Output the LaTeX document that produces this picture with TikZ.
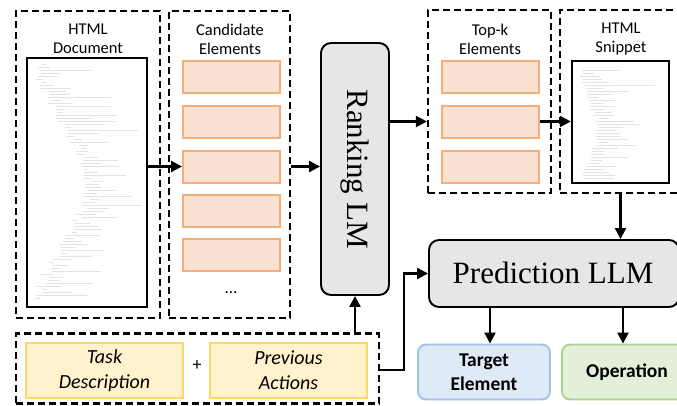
\documentclass[tikz,border=0pt]{standalone}
\usepackage{fontspec}
\setmainfont{Carlito}
\newfontfamily\serifLM{Liberation Serif}
\usetikzlibrary{arrows.meta}
\definecolor{orfill}{HTML}{FAE2D2}
\definecolor{ordraw}{HTML}{F4AE7C}
\definecolor{yefill}{HTML}{FFF2CC}
\definecolor{yedraw}{HTML}{FFD966}
\definecolor{blfill}{HTML}{DEEBF7}
\definecolor{bldraw}{HTML}{9DC3E6}
\definecolor{grfill}{HTML}{E2F0D9}
\definecolor{grdraw}{HTML}{A9D18E}
\definecolor{lmfill}{HTML}{E6E6E6}
\tikzset{
  dashbox/.style={draw=black, line width=2.2pt, dash pattern=on 7pt off 4pt, minimum width=#1},
  docbox/.style={draw=black, line width=2.3pt, fill=white},
  candbox/.style={draw=ordraw, fill=orfill, line width=2pt, minimum width=97pt, minimum height=32pt},
  lmbox/.style={draw=black, fill=lmfill, line width=1.9pt, rounded corners=10pt},
  inbox/.style={draw=yedraw, fill=yefill, line width=2pt, minimum height=55pt, align=center, font=\fontsize{20}{25}\selectfont\itshape},
  outbox/.style={line width=1.9pt, rounded corners=8pt, minimum height=55pt, align=center, font=\fontsize{19.5}{24}\selectfont\bfseries},
  lbl/.style={align=center, font=\fontsize{16.5}{19}\selectfont},
  arr/.style={-{Triangle[length=11pt,width=11pt]}, line width=2.2pt},
  code/.style={draw=gray!22, line width=0.4pt}
}
\begin{document}
\begin{tikzpicture}[x=1pt,y=-1pt]
\useasboundingbox (0,0) rectangle (677,405);
\clip (0,0) rectangle (677,405);
% HTML document
\node[dashbox=144pt, minimum height=307pt] (docd) at (88,164.5) {};
\node[lbl] (doct) at (88,39) {HTML\\Document};
\node[docbox, minimum width=120pt, minimum height=249pt] (doc) at (87,182.5) {};
\pgfmathsetseed{7}
\foreach \i in {0,...,78}{
  \pgfmathsetmacro{\yy}{64+\i*3.0}
  \pgfmathsetmacro{\ind}{33+(1-cos(\i*4.5))*25+rnd*10}
  \pgfmathsetmacro{\len}{4+rnd*rnd*80}
  \draw[code] (\ind,\yy) -- ({min(\ind+\len,143)},\yy);
}
% Candidate elements
\node[dashbox=121pt, minimum height=307pt] (candd) at (229.5,164.5) {};
\node[lbl] (candt) at (230,39) {Candidate\\Elements};
\foreach \k/\yy in {1/77,2/121.5,3/166.5,4/210.5,5/254.5}{
  \node[candbox] (c\k) at (231.5,\yy) {};
}
\node[font=\fontsize{17}{19}\selectfont] (dots) at (231,293) {...};
% Ranking LM
\node[lmbox, minimum width=68pt, minimum height=252pt] (rank) at (355,169) {};
\node[rotate=-90, font=\serifLM\fontsize{31}{31}\selectfont] (rankt) at (355,169) {Ranking LM};
% Top-k
\node[dashbox=123pt, minimum height=183pt] (topd) at (489.5,101.5) {};
\node[lbl] (topt) at (490,39) {Top-k\\Elements};
\foreach \k/\yy in {1/77,2/121.5,3/166.5}{
  \node[candbox] (t\k) at (490.5,\yy) {};
}
% HTML snippet
\node[dashbox=130pt, minimum height=183pt] (snd) at (625,101.5) {};
\node[lbl] (snt) at (621,39) {HTML\\Snippet};
\node[docbox, minimum width=97pt, minimum height=122pt] (sn) at (620.5,122) {};
\pgfmathsetseed{11}
\foreach \i in {0,...,36}{
  \pgfmathsetmacro{\yy}{70+\i*3.0}
  \pgfmathsetmacro{\ind}{579+(1-cos(\i*9))*8+rnd*5}
  \pgfmathsetmacro{\len}{10+rnd*rnd*80}
  \draw[code] (\ind,\yy) -- ({min(\ind+\len,665)},\yy);
}
% Prediction LLM
\node[lmbox, minimum width=250pt, minimum height=67pt] (pred) at (554,273.5) {};
\node[font=\serifLM\fontsize{31}{31}\selectfont] (predt) at (553,273) {Prediction LLM};
% Outputs
\node[outbox, draw=bldraw, fill=blfill, minimum width=132pt] (tgt) at (484,372) {Target\\Element};
\node[outbox, draw=grdraw, fill=grfill, minimum width=130pt] (op) at (627,372) {Operation};
% Task + previous actions
\node[dashbox=363pt, minimum height=70pt] (taskd) at (197.5,368.5) {};
\node[inbox, minimum width=157pt] (task) at (104.5,370.5) {Task\\Description};
\node[font=\fontsize{18}{18}\selectfont] (plus) at (197,366) {+};
\node[inbox, minimum width=157pt] (prev) at (288.5,370.5) {Previous\\Actions};
% arrows
\draw[arr] (doc.east |- c3) -- (c3.west);
\draw[arr] (candd.east |- c3) -- (rank.west |- c3);
\draw[arr] (rank.east |- t2) -- (topd.west |- t2);
\draw[arr] (t2.east) -- (sn.west |- t2);
\draw[arr] (sn.center |- snd.south) -- (sn.center |- pred.north);
\coordinate (bend) at (404,370);
\draw[arr] (taskd.east |- bend) -- (bend) |- (pred.west);
\coordinate (tu) at (355,334);
\draw[arr] (tu) -- (rank.south);
\coordinate (p1) at (490,307);
\coordinate (p2) at (623,307);
\draw[arr] (p1) -- (tgt.north -| p1);
\draw[arr] (p2) -- (op.north -| p2);
\end{tikzpicture}
\end{document}
